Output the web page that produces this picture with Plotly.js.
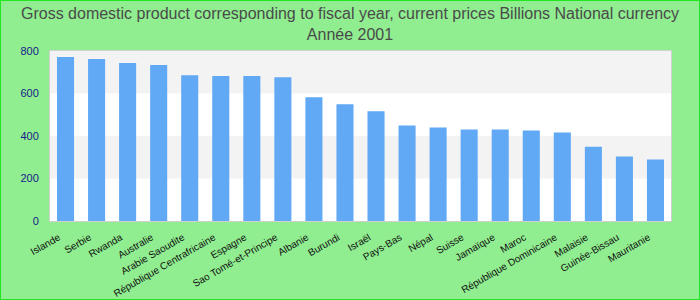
<!DOCTYPE html>
<html>
<head>
<meta charset="utf-8">
<script src="https://cdn.plot.ly/plotly-3.0.1.min.js"></script>
<style>
html,body{margin:0;padding:0;background:#90ee90;}
#chart{width:700px;height:300px;box-sizing:border-box;border:1px solid #22e622;}
</style>
</head>
<body>
<div id="chart"></div>
<script>
const countries = ["Islande","Serbie","Rwanda","Australie","Arabie Saoudite","République Centrafricaine","Espagne","Sao Tomé-et-Principe","Albanie","Burundi","Israël","Pays-Bas","Népal","Suisse","Jamaïque","Maroc","République Dominicaine","Malaisie","Guinée-Bissau","Mauritanie"];
const gdpValues = [772,762,743,734,686,682,682,677,582,549,516,450,440,431,431,426,417,350,303,289];
const yTicks = [0,200,400,600,800];
const bandRanges = [[200,400],[600,800]];

const shapes = bandRanges.map(r => ({
  type:'rect', xref:'paper', yref:'y', x0:0, x1:1, y0:r[0], y1:r[1],
  fillcolor:'#f3f3f3', line:{width:0}, layer:'below'
}));

const data = [{
  type:'bar', x:countries, y:gdpValues,
  marker:{color:'#61a9f5'},
  hoverinfo:'x+y'
}];

const layout = {
  width:698, height:298,
  paper_bgcolor:'#90ee90', plot_bgcolor:'#ffffff',
  margin:{l:49, r:28, t:50, b:78, pad:0},
  bargap:0.45,
  showlegend:false,
  title:{
    text:'Gross domestic product corresponding to fiscal year, current prices Billions National currency<br>Année 2001',
    font:{family:'Liberation Sans, Arial, sans-serif', size:16, color:'#4a4a4a'},
    x:0.5, xanchor:'center', yref:'container', y:0.94, yanchor:'top'
  },
  xaxis:{
    type:'category', tickangle:-30,
    tickfont:{family:'Liberation Sans, Arial, sans-serif', size:10, color:'#111'},
    showline:true, mirror:true, linecolor:'#d0d0d0', linewidth:1,
    ticks:'outside', ticklen:6, tickcolor:'rgba(0,0,0,0)',
    ticklabelshift:-7,
    showgrid:false, zeroline:false, automargin:false
  },
  yaxis:{
    range:[0,800], tickvals:yTicks, ticktext:yTicks.map(String),
    tickfont:{family:'Liberation Sans, Arial, sans-serif', size:11, color:'#1a1a8c'},
    showline:true, mirror:true, linecolor:'#d0d0d0', linewidth:1,
    ticks:'outside', ticklen:8, tickcolor:'rgba(0,0,0,0)',
    showgrid:false, zeroline:false, automargin:false, fixedrange:true
  },
  shapes:shapes
};

Plotly.newPlot('chart', data, layout, {displayModeBar:false, staticPlot:true});
</script>
</body>
</html>
